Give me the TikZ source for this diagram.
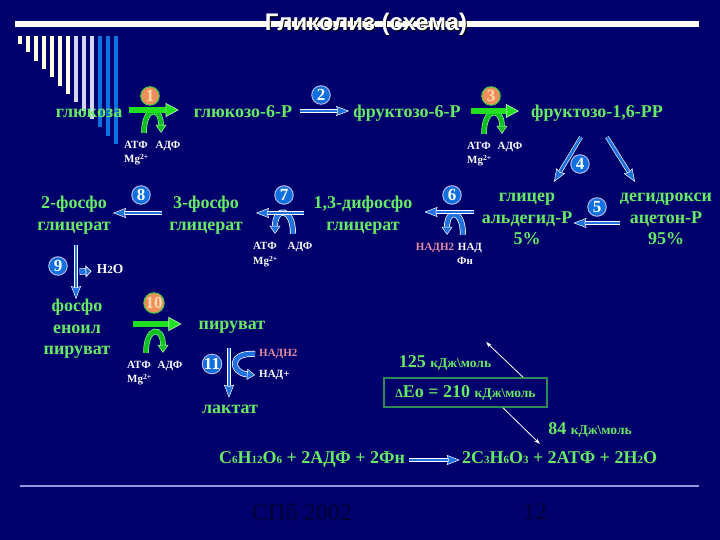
\documentclass[tikz,border=0pt]{standalone}
\usepackage{fontspec}
\setmainfont{Liberation Serif}
\newfontfamily\titlefont{Liberation Sans}
\usetikzlibrary{arrows.meta, calc}
\definecolor{slideBlue}{HTML}{00006C}
\definecolor{labelGreen}{HTML}{66EA66}
\definecolor{arrowGreen}{HTML}{20E020}
\definecolor{arcGreen}{HTML}{10C020}
\definecolor{arrowBlue}{HTML}{2070E0}
\definecolor{numBlue}{HTML}{1070E0}
\definecolor{numOrange}{HTML}{F09058}
\definecolor{pinkNad}{HTML}{E88CA0}
\definecolor{boxGreen}{HTML}{2E8B57}
\definecolor{footDark}{HTML}{000038}
\definecolor{ruleBlue}{HTML}{9494E0}
\newcommand{\dgt}[1]{{\fontsize{11}{11}\selectfont #1}}
\newcommand{\kj}{{\fontsize{13.5}{14}\selectfont кДж\textbackslash моль}}

\begin{document}
\begin{tikzpicture}[
    x=1pt, y=1pt,
    every node/.style={inner sep=0pt},
    lbl/.style={font=\fontsize{18}{21.5}\selectfont\bfseries, text=labelGreen, align=center},
    one/.style={lbl, text height=12pt, text depth=4pt},
    small/.style={font=\fontsize{11}{14}\selectfont\bfseries, text=white, align=left, text height=8pt, text depth=2pt},
    numB/.style={circle, draw=ruleBlue!70!white, line width=1pt, fill=numBlue, minimum size=18.5pt, text=white, font=\fontsize{17}{17}\selectfont\bfseries},
    numO/.style={circle, draw=arcGreen!80!white, line width=1pt, fill=numOrange, minimum size=18.5pt, text=orange!30!white, font=\fontsize{17}{17}\selectfont\bfseries},
    thin arr/.style={draw=white, line width=0.6pt, double=arrowBlue, double distance=2.8pt, -{Stealth[inset=1.5pt,length=13pt,width=10pt,line width=0.5pt,fill=arrowBlue]}},
    green arr/.style={draw=white!75!arrowGreen, line width=0.6pt, double=arrowGreen, double distance=5.5pt, -{Stealth[inset=0pt,length=13pt,width=14pt,fill=arrowGreen]}},
    green arc/.style={draw=white!60!arrowGreen, line width=0.6pt, double=arcGreen, double distance=4.4pt, -{Stealth[inset=0pt,length=8pt,width=11pt,fill=arcGreen]}},
    blue arc/.style={draw=white, line width=0.7pt, double=arrowBlue, double distance=4.6pt, -{Stealth[inset=0pt,length=8pt,width=11pt,line width=0.5pt,fill=arrowBlue]}},
]
\fill[slideBlue] (0,0) rectangle (720,540);
\useasboundingbox (0,0) rectangle (720,540);
% полоски слева вверху
\foreach \i/\c in {0/yellow!12!white, 1/yellow!12!white, 2/yellow!12!white, 3/yellow!12!white, 4/yellow!12!white, 5/yellow!12!white, 6/yellow!8!white, 7/ruleBlue!40!white, 8/ruleBlue!40!white, 9/ruleBlue!40!white, 10/numBlue, 11/numBlue, 12/numBlue}
    \fill[\c] ({18+8*\i},504) rectangle ({21.6+8*\i},{496-8.33*\i});
\fill[white] (15,513) rectangle (699,519);
\fill[ruleBlue] (20,53.2) rectangle (699,55);
% заголовок
\node[font=\titlefont\fontsize{24}{24}\selectfont\bfseries, text=black] (titleBack) at (367,515) {Гликолиз (схема)};
\node[font=\titlefont\fontsize{24}{24}\selectfont\bfseries, text=white] (title) at (366,516) {Гликолиз (схема)};
% верхний ряд
\node[one] (glucose) at (89,426) {глюкоза};
\node[one] (gsix)    at (243,426) {глюкозо-6-Р};
\node[one] (fsix)    at (407,426) {фруктозо-6-Р};
\node[one] (fbp)     at (597,426) {фруктозо-1,6-РР};
% средний ряд
\node[lbl] (pgtwo)   at (74,325) {2-фосфо\\глицерат};
\node[lbl] (pgthree) at (206,325) {3-фосфо\\глицерат};
\node[lbl] (bpg)     at (363,325) {1,3-дифосфо\\глицерат};
\node[lbl] (gap)     at (527,321) {глицер\\альдегид-Р\\5\%};
\node[lbl] (dhap)    at (666,321) {дегидрокси\\ацетон-Р\\95\%};
% нижний ряд
\node[lbl] (pep)     at (77,211) {фосфо\\еноил\\пируват};
\node[one] (pyr)     at (232,214) {пируват};
\node[one] (lact)    at (230,130) {лактат};
% кофакторы
\node[small] (atfa) at (136,394) {АТФ};
\node[small] (adfa) at (168,394) {АДФ};
\node[small, anchor=west] (mga) at (124,380) {Mg\textsuperscript{2+}};
\node[small] (atfc) at (479,393) {АТФ};
\node[small] (adfc) at (510,393) {АДФ};
\node[small, anchor=west] (mgc) at (467,379) {Mg\textsuperscript{2+}};
\node[small] (atfg) at (265,293) {АТФ};
\node[small] (adfg) at (300,293) {АДФ};
\node[small, anchor=west] (mgg) at (253,278) {Mg\textsuperscript{2+}};
\node[small] (atfj) at (139,174) {АТФ};
\node[small] (adfj) at (170,174) {АДФ};
\node[small, anchor=west] (mgj) at (127,160) {Mg\textsuperscript{2+}};
\node[small, text=pinkNad] (nadh) at (435,292) {НАДН\dgt{2}};
\node[small] (nad) at (470,292) {НАД};
\node[small] (fn)  at (465,278) {Фн};
\node[small, text=pinkNad, anchor=west] (nadhb) at (259,186) {НАДН\dgt{2}};
\node[small, anchor=west] (nadb) at (259,165) {НАД+};
\node[small, font=\fontsize{13.5}{14}\selectfont\bfseries] (water) at (110,269) {H\dgt{2}O};
% номера стадий
\node[numO] (n1)  at (150,444) {1};
\node[numB] (n2)  at (321,445) {2};
\node[numO] (n3)  at (491,444) {3};
\node[numB] (n4)  at (580,376) {4};
\node[numB] (n5)  at (597,333) {5};
\node[numB] (n6)  at (452,345) {6};
\node[numB] (n7)  at (284,345) {7};
\node[numB] (n8)  at (141,345) {8};
\node[numB] (n9)  at (58,274) {9};
\node[numO] (n10) at (154,237) {10};
\node[numB] (n11) at (212,176) {11};
% энергия
\node[draw=boxGreen, line width=1.6pt, minimum width=163pt, minimum height=29pt, lbl] (enbox) at (465.5,147.5) {{\fontsize{12}{12}\selectfont Δ}Eo = 210 \kj};
\node[one] (kjup) at (445,176) {125 \kj};
\node[one] (kjdown) at (590,109) {84 \kj};
\coordinate (upTip) at (486,198);
\coordinate (downTip) at (540,96);
% суммарное уравнение
\node[one] (eqleft)  at (312,80) {C\dgt{6}H\dgt{12}O\dgt{6} + 2АДФ + 2Фн};
\node[one] (eqright) at (559.5,80) {2C\dgt{3}H\dgt{6}O\dgt{3} + 2АТФ + 2H\dgt{2}O};
% низ
\node[font=\fontsize{24}{24}\selectfont, text=footDark] (footyear) at (302,28) {СПб 2002};
\node[font=\fontsize{24}{24}\selectfont, text=footDark] (footpage) at (535,28) {12};
% стрелки
\draw[green arc] ([shift={(8pt,8pt)}]atfa.north) to[out=90,in=90,distance=27pt] ([shift={(-7pt,8pt)}]adfa.north);
\draw[green arr, shorten <=7pt, shorten >=15pt] ([yshift=4pt]glucose.east) -- ([yshift=4pt]gsix.west);
\draw[thin arr, shorten <=8pt, shorten >=4pt] ([yshift=3pt]gsix.east) -- ([yshift=3pt]fsix.west);
\draw[green arc] ([shift={(5pt,8pt)}]atfc.north) to[out=90,in=90,distance=27pt] ([shift={(-8pt,8pt)}]adfc.north);
\draw[green arr, shorten <=10pt, shorten >=12pt] ([yshift=3pt]fsix.east) -- ([yshift=3pt]fbp.west);
\draw[thin arr] ([shift={(-16pt,-15pt)}]fbp.south) -- ([shift={(27pt,11pt)}]gap.north);
\draw[thin arr] ([shift={(10pt,-15pt)}]fbp.south) -- ([shift={(-31pt,11pt)}]dhap.north);
\draw[thin arr, shorten >=1pt] ([yshift=-4pt]dhap.west) -- ([yshift=-4pt]gap.east);
\draw[blue arc] ([shift={(-7pt,8pt)}]nad.north) to[out=90,in=90,distance=26pt] ([shift={(12pt,8pt)}]nadh.north);
\draw[thin arr, shorten <=8pt, shorten >=12pt] ([yshift=7pt]gap.west) -- ([yshift=3pt]bpg.east);
\draw[blue arc] ([shift={(-7pt,8pt)}]adfg.north) to[out=90,in=90,distance=27pt] ([shift={(10pt,8pt)}]atfg.north);
\draw[thin arr, shorten <=9pt, shorten >=13pt] ([yshift=2pt]bpg.west) -- ([yshift=2pt]pgthree.east);
\draw[thin arr, shorten <=7pt, shorten >=2pt] ([yshift=2pt]pgthree.west) -- ([yshift=2pt]pgtwo.east);
\draw[thin arr, shorten <=11pt] ([xshift=2pt]pgtwo.south) -- ([xshift=-1pt]pep.north);
\draw[blue arc, double distance=5pt, -{Stealth[inset=0pt,length=6pt,width=12pt,fill=arrowBlue]}, shorten >=5pt] ($(pgtwo.south)!0.5!(pep.north)+(4pt,-5pt)$) -- (water.west);
\draw[green arc] ([shift={(7pt,8pt)}]atfj.north) to[out=90,in=90,distance=27pt] ([shift={(-7pt,8pt)}]adfj.north);
\draw[green arr, shorten <=22pt, shorten >=17pt] ([yshift=5pt]pep.east) -- ([yshift=2pt]pyr.west);
\draw[thin arr, shorten <=14pt, shorten >=4pt] ([xshift=-3pt]pyr.south) -- ([xshift=-1pt]lact.north);
\draw[blue arc] ([xshift=-4pt]nadhb.west) .. controls (228,188) and (231,167) .. ([xshift=-4pt]nadb.west);
\draw[white, line width=0.8pt, -{Stealth[length=6pt,width=4pt]}] ([xshift=57.5pt]enbox.north) -- (upTip);
\draw[white, line width=0.8pt, -{Stealth[length=6pt,width=4pt]}] ([xshift=37.5pt]enbox.south) -- (downTip);
\draw[thin arr, shorten <=4pt, shorten >=2pt] (eqleft.east) -- (eqright.west);
\end{tikzpicture}
\end{document}
